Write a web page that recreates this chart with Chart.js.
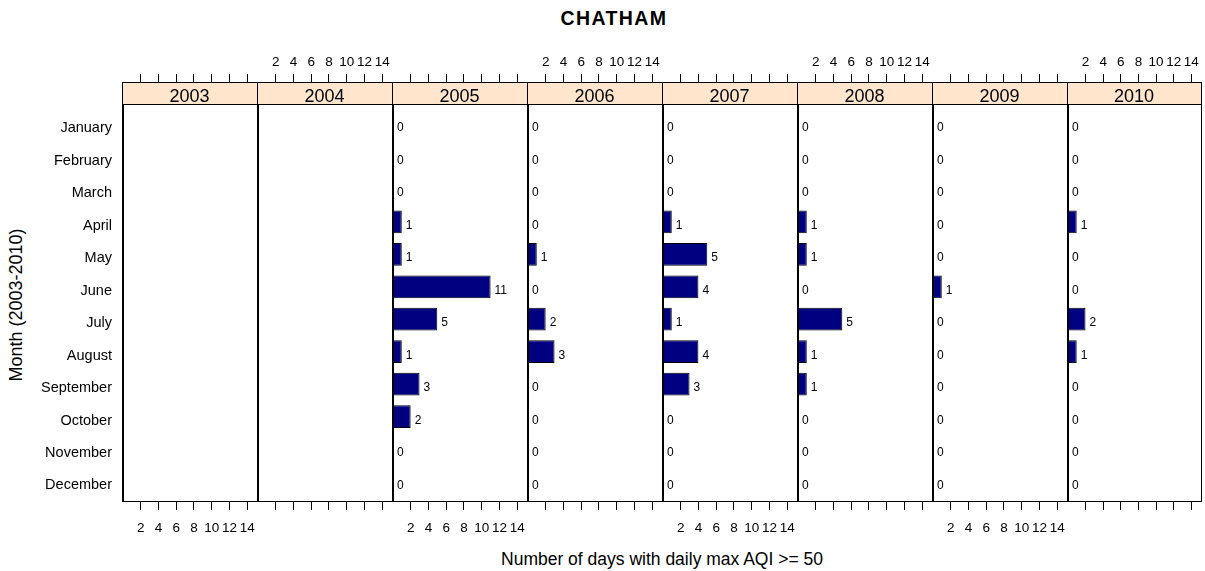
<!DOCTYPE html>
<html><head><meta charset="utf-8">
<script src="https://cdn.jsdelivr.net/npm/chart.js@4.4.1/dist/chart.umd.min.js"></script>
<style>
html,body{margin:0;padding:0;background:#fff;}
#wrap{position:relative;width:1205px;height:571px;overflow:hidden;font-family:"Liberation Sans",Arial,sans-serif;}
#wrap canvas{position:absolute;top:0;}
.t{position:absolute;white-space:nowrap;line-height:1;color:#000;}
</style></head><body>
<div id="wrap">
<div class="t" style="font-size:19.5px;font-weight:bold;letter-spacing:1.4px;left:614px;top:9.2px;transform:translateX(-50%)">CHATHAM</div>
<div class="t" style="font-size:17.5px;left:662px;top:551.2px;transform:translateX(-50%)">Number of days with daily max AQI &gt;= 50</div>
<div class="t" style="font-size:18px;left:16px;top:305px;transform:translate(-50%,-50%) rotate(-90deg)">Month (2003-2010)</div>
</div>
<script>
const months = ['January','February','March','April','May','June','July','August','September','October','November','December'];
const years = ['2003','2004','2005','2006','2007','2008','2009','2010'];
const xTickValues = [2,4,6,8,10,12,14];
const counts2003 = [];
const counts2004 = [];
const counts2005 = [0,0,0,1,1,11,5,1,3,2,0,0];
const counts2006 = [0,0,0,0,1,0,2,3,0,0,0,0];
const counts2007 = [0,0,0,1,5,4,1,4,3,0,0,0];
const counts2008 = [0,0,0,1,1,0,5,1,1,0,0,0];
const counts2009 = [0,0,0,0,0,1,0,0,0,0,0,0];
const counts2010 = [0,0,0,1,0,0,2,1,0,0,0,0];
const countsByYear = [counts2003,counts2004,counts2005,counts2006,counts2007,counts2008,counts2009,counts2010];

const panelEdges = [122,257,392,527,662,797,932,1067,1201];
const PAD = 12;
const FONT = '"Liberation Sans", Arial, sans-serif';
const X_MIN = -0.1, X_MAX = 15.1;
const PLOT_MIN = -0.63, Y_MAX = 11.63;
const Y_MIN = -1.308;           // extra room at top of chart area for the strip
const Y_LABEL_SHIFT = 0.12;

const decor = {
  id: 'decor',
  beforeDatasetsDraw(chart, args, opts) {
    const {ctx, chartArea: a} = chart;
    const ys = chart.scales.y;
    const sb = Math.round(ys.getPixelForValue(PLOT_MIN));
    ctx.save();
    ctx.fillStyle = '#FFE5CC';
    ctx.fillRect(a.left, a.top, a.right - a.left, sb - a.top);
    ctx.fillStyle = '#000';
    ctx.font = '18px ' + FONT;
    ctx.textAlign = 'center';
    ctx.textBaseline = 'alphabetic';
    ctx.fillText(opts.year, (a.left + a.right) / 2, sb - 2);
    ctx.restore();
  },
  afterDatasetsDraw(chart, args, opts) {
    const {ctx, chartArea: a} = chart;
    const xs = chart.scales.x, ys = chart.scales.y;
    const sb = Math.round(ys.getPixelForValue(PLOT_MIN));
    ctx.save();
    ctx.strokeStyle = '#000';
    ctx.lineWidth = 1;
    ctx.beginPath();
    ctx.moveTo(a.left, a.top + 0.5); ctx.lineTo(a.right + 1, a.top + 0.5);
    ctx.moveTo(a.left, sb + 0.5); ctx.lineTo(a.right + 1, sb + 0.5);
    ctx.moveTo(a.left, a.bottom - 0.5); ctx.lineTo(a.right + 1, a.bottom - 0.5);
    ctx.moveTo(a.left + 0.5, a.top); ctx.lineTo(a.left + 0.5, a.bottom);
    ctx.moveTo(a.right + 0.5, a.top); ctx.lineTo(a.right + 0.5, a.bottom);
    const x0 = Math.round(xs.getPixelForValue(0)) + 0.5;
    ctx.moveTo(x0, sb); ctx.lineTo(x0, a.bottom);
    ctx.stroke();
    ctx.fillStyle = '#000';
    ctx.font = '12px ' + FONT;
    ctx.textAlign = 'left';
    ctx.textBaseline = 'alphabetic';
    opts.values.forEach((v, i) => {
      ctx.fillText(String(v), xs.getPixelForValue(v) + 4, ys.getPixelForValue(i) + 7);
    });
    ctx.restore();
  }
};

const wrap = document.getElementById('wrap');
years.forEach((yr, p) => {
  const left = panelEdges[p], right = panelEdges[p + 1];
  const first = p === 0;
  const canvasLeft = first ? 0 : left - PAD;
  const canvasW = right + PAD - canvasLeft;
  const cv = document.createElement('canvas');
  cv.width = canvasW; cv.height = 571;
  cv.style.left = canvasLeft + 'px';
  cv.style.width = canvasW + 'px';
  cv.style.height = '571px';
  wrap.appendChild(cv);
  const vals = countsByYear[p];
  const showBottom = p % 2 === 0, showTop = p % 2 === 1;
  const xCommon = (pos, show, pad, h) => ({
    type: 'linear', position: pos, min: X_MIN, max: X_MAX, offset: false,
    afterBuildTicks: s => { s.ticks = xTickValues.map(v => ({value: v})); },
    afterFit: s => { s.height = h; },
    grid: {display: true, drawOnChartArea: false, drawTicks: true, tickLength: 8, color: '#000', lineWidth: 1, offset: false},
    border: {display: false},
    ticks: {padding: pad, autoSkip: false, maxRotation: 0, minRotation: 0, color: '#000',
      font: {family: FONT, size: 13.5}, callback: v => show ? String(v) : ''}
  });
  const yScale = {
    type: 'linear', reverse: true, min: Y_MIN, max: Y_MAX, display: first, offset: false,
    afterBuildTicks: s => { s.ticks = months.map((m, i) => ({value: i + Y_LABEL_SHIFT})); },
    grid: {display: false, drawTicks: false, offset: false}, border: {display: false},
    ticks: {padding: 10, autoSkip: false, color: '#000', font: {family: FONT, size: 14.5},
      callback: v => months[Math.round(v - Y_LABEL_SHIFT)]}
  };
  if (first) yScale.afterFit = s => { s.width = 122; };
  new Chart(cv, {
    type: 'bar',
    data: {datasets: [{
      data: vals.map((v, i) => ({x: v, y: i})),
      backgroundColor: '#000080', borderColor: '#000', borderWidth: 1, borderSkipped: false,
      barPercentage: 0.7, categoryPercentage: 1
    }]},
    options: {
      indexAxis: 'y', responsive: false, animation: false, devicePixelRatio: 1, events: [],
      layout: {padding: {left: first ? 0 : PAD, right: PAD, top: 0, bottom: 0}},
      plugins: {legend: {display: false}, tooltip: {enabled: false}, title: {display: false},
        decor: {year: yr, values: vals}},
      scales: {
        x: xCommon('bottom', showBottom, 10, 69),
        x2: Object.assign(xCommon('top', showTop, 4, 82), {axis: 'x'}),
        y: yScale
      }
    },
    plugins: [decor]
  });
});
</script>
</body></html>
